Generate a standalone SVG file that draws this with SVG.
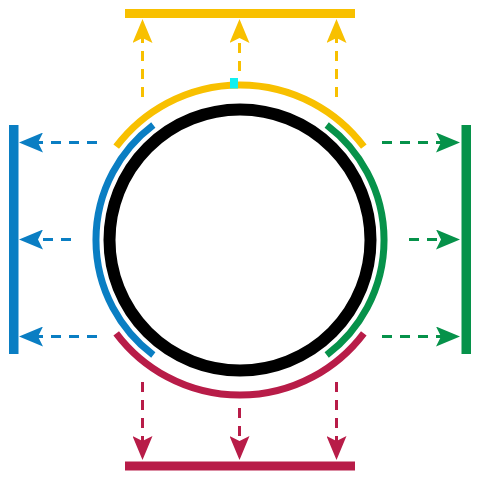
<svg xmlns="http://www.w3.org/2000/svg" width="480" height="480" viewBox="0 0 480 480">
<style>
.arc{fill:none;stroke-width:7}
.dl{fill:none;stroke-width:3;stroke-dasharray:10 8}
.y{stroke:#F8C000}.b{stroke:#0A7EC3}.g{stroke:#06924A}.r{stroke:#B81C48}
</style>
<defs>
<marker id="ay" viewBox="0 0 24 20" refX="5" refY="10" markerWidth="24" markerHeight="20" markerUnits="userSpaceOnUse" orient="auto"><path d="M0,0 L24,10 L0,20 L5,10 Z" fill="#F8C000"/></marker>
<marker id="ab" viewBox="0 0 24 20" refX="5" refY="10" markerWidth="24" markerHeight="20" markerUnits="userSpaceOnUse" orient="auto"><path d="M0,0 L24,10 L0,20 L5,10 Z" fill="#0A7EC3"/></marker>
<marker id="ag" viewBox="0 0 24 20" refX="5" refY="10" markerWidth="24" markerHeight="20" markerUnits="userSpaceOnUse" orient="auto"><path d="M0,0 L24,10 L0,20 L5,10 Z" fill="#06924A"/></marker>
<marker id="ar" viewBox="0 0 24 20" refX="5" refY="10" markerWidth="24" markerHeight="20" markerUnits="userSpaceOnUse" orient="auto"><path d="M0,0 L24,10 L0,20 L5,10 Z" fill="#B81C48"/></marker>
</defs>
<g id="bars">
<rect id="bar-top" x="125" y="9" width="230" height="9" fill="#F8C000"/>
<rect id="bar-left" x="9" y="125" width="9.5" height="229" fill="#0A7EC3"/>
<rect id="bar-right" x="461.5" y="125" width="9.5" height="229" fill="#06924A"/>
<rect id="bar-bottom" x="125" y="461.5" width="230" height="9" fill="#B81C48"/>
</g>
<g id="circle">
<circle cx="240" cy="240" r="130.5" fill="#fff" stroke="#000" stroke-width="12"/>
</g>
<g id="arcs">
<path id="arc-top" class="arc y" d="M116.2,146.7 A155,155 0 0 1 363.8,146.7"/>
<path id="arc-bottom" class="arc r" d="M116.2,333.3 A155,155 0 0 0 363.8,333.3"/>
<path id="arc-left" class="arc b" d="M153.3,125 A144,144 0 0 0 153.3,355"/>
<path id="arc-right" class="arc g" d="M326.7,125 A144,144 0 0 1 326.7,355"/>
<rect id="marker" x="230" y="78" width="8" height="10.5" fill="#12F0F0"/>
</g>
<g id="connectors">
<path class="dl y" d="M142.5,97 V38" marker-end="url(#ay)"/>
<path class="dl y" d="M239.5,71 V38" marker-end="url(#ay)"/>
<path class="dl y" d="M336.5,97 V38" marker-end="url(#ay)"/>
<path class="dl b" d="M97,142.5 H38" marker-end="url(#ab)"/>
<path class="dl b" d="M71,239.5 H38" marker-end="url(#ab)"/>
<path class="dl b" d="M97,336.5 H38" marker-end="url(#ab)"/>
<path class="dl g" d="M382,142.5 H441" marker-end="url(#ag)"/>
<path class="dl g" d="M409,239.5 H441" marker-end="url(#ag)"/>
<path class="dl g" d="M382,336.5 H441" marker-end="url(#ag)"/>
<path class="dl r" d="M142.5,382 V441" marker-end="url(#ar)"/>
<path class="dl r" d="M239.5,408 V441" marker-end="url(#ar)"/>
<path class="dl r" d="M336.5,382 V441" marker-end="url(#ar)"/>
</g>
</svg>
